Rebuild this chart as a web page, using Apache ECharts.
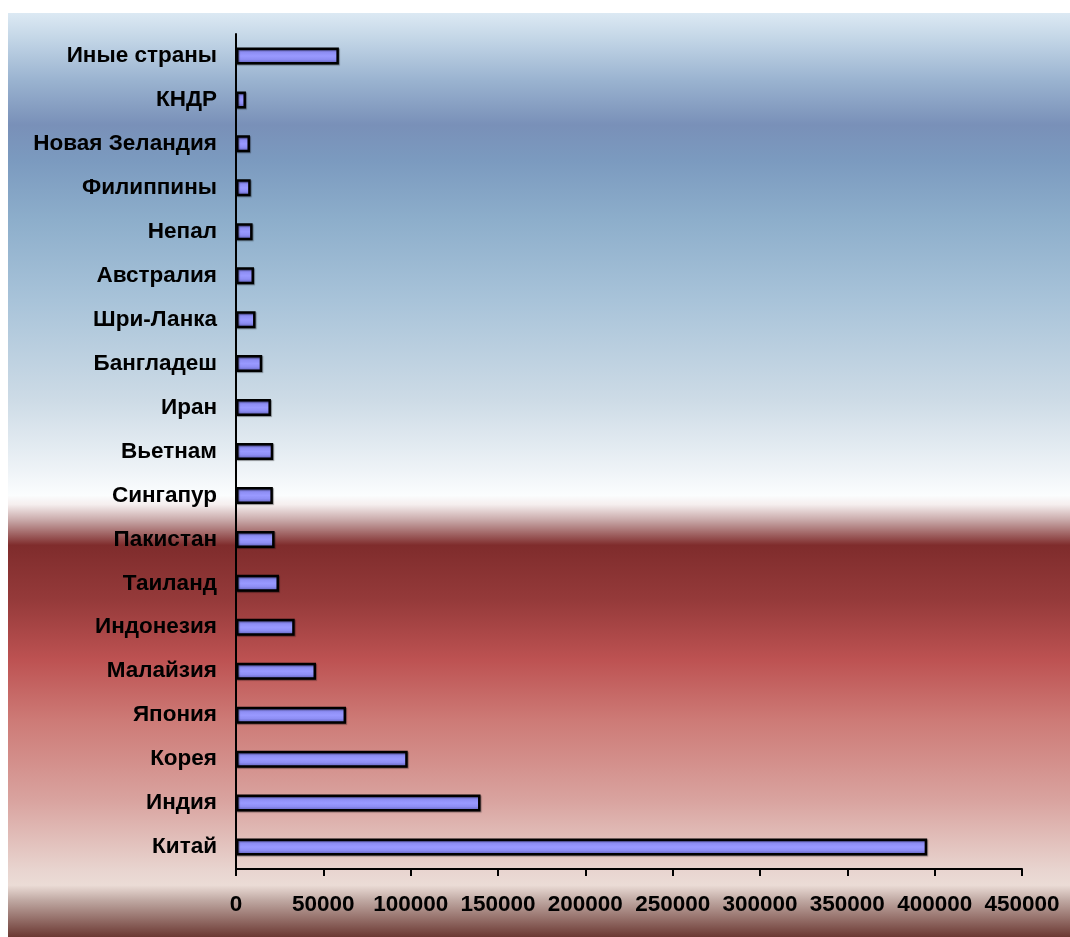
<!DOCTYPE html>
<html>
<head>
<meta charset="utf-8">
<script src="https://cdn.jsdelivr.net/npm/echarts@6/dist/echarts.min.js"></script>
<style>
html,body{margin:0;padding:0;background:#fff;}
#chart{width:1070px;height:937px;}
</style>
</head>
<body>
<div id="chart"></div>
<script>
// categories from bottom to top (ECharts category axis starts at bottom)
const categories = ['Китай','Индия','Корея','Япония','Малайзия','Индонезия','Таиланд','Пакистан','Сингапур','Вьетнам','Иран','Бангладеш','Шри-Ланка','Австралия','Непал','Филиппины','Новая Зеландия','КНДР','Иные страны'];
const values = [395700,140000,98300,63000,45800,33600,24600,22100,21100,21300,20000,15000,11200,10300,9500,8400,8000,5700,58900];
const xTicks = {min:0, max:450000, interval:50000};

const chart = echarts.init(document.getElementById('chart'), null, {renderer:'canvas'});
const font = '"Liberation Sans", Arial, sans-serif';

const bg = new echarts.graphic.LinearGradient(0,0,0,1,[
  {offset:0, color:'#dce9f3'},
  {offset:0.029, color:'#c2d5e6'},
  {offset:0.073, color:'#9ab3d0'},
  {offset:0.121, color:'#7990b8'},
  {offset:0.159, color:'#7b9abf'},
  {offset:0.224, color:'#8daecb'},
  {offset:0.311, color:'#a8c3d9'},
  {offset:0.419, color:'#cddbe6'},
  {offset:0.495, color:'#eef3f7'},
  {offset:0.522, color:'#fbfdfe'},
  {offset:0.532, color:'#f5eeee'},
  {offset:0.549, color:'#c8a8a8'},
  {offset:0.576, color:'#7f2c2c'},
  {offset:0.635, color:'#953a3a'},
  {offset:0.700, color:'#bd5252'},
  {offset:0.765, color:'#cd7a76'},
  {offset:0.852, color:'#d9a39f'},
  {offset:0.927, color:'#e8d4cf'},
  {offset:0.944, color:'#ebdcd6'},
  {offset:0.960, color:'#c0a9a3'},
  {offset:1, color:'#6b3832'}
]);

const barFill = new echarts.graphic.LinearGradient(0,0,0,1,[
  {offset:0, color:'#5c5cb8'},
  {offset:0.3, color:'#8e8ef4'},
  {offset:0.5, color:'#9999ff'},
  {offset:0.7, color:'#8e8ef4'},
  {offset:1, color:'#5252a8'}
]);

chart.setOption({
  animation:false,
  graphic:[{
    type:'rect', z:-10, silent:true,
    shape:{x:8, y:13, width:1062, height:924},
    style:{fill:bg}
  }],
  grid:{left:236, right:48, top:34, bottom:68, containLabel:false},
  xAxis:{
    type:'value', min:xTicks.min, max:xTicks.max, interval:xTicks.interval,
    axisLine:{show:true, lineStyle:{color:'#000', width:2}},
    axisTick:{show:true, length:7, lineStyle:{color:'#000', width:2}},
    splitLine:{show:false},
    axisLabel:{color:'#000', fontFamily:font, fontWeight:'bold', fontSize:22.5, margin:24,
      formatter:function(v){return String(v);}}
  },
  yAxis:{
    type:'category', data:categories,
    axisLine:{show:true, lineStyle:{color:'#000', width:2}},
    axisTick:{show:false},
    axisLabel:{color:'#000', fontFamily:font, fontWeight:'bold', fontSize:22.5, margin:19}
  },
  series:[{
    type:'bar', data:values, barWidth:17,
    itemStyle:{color:barFill, borderColor:'#000', borderWidth:2.5,
      shadowColor:'rgba(0,0,0,0.35)', shadowOffsetX:1, shadowOffsetY:1, shadowBlur:1}
  }]
});
</script>
</body>
</html>
